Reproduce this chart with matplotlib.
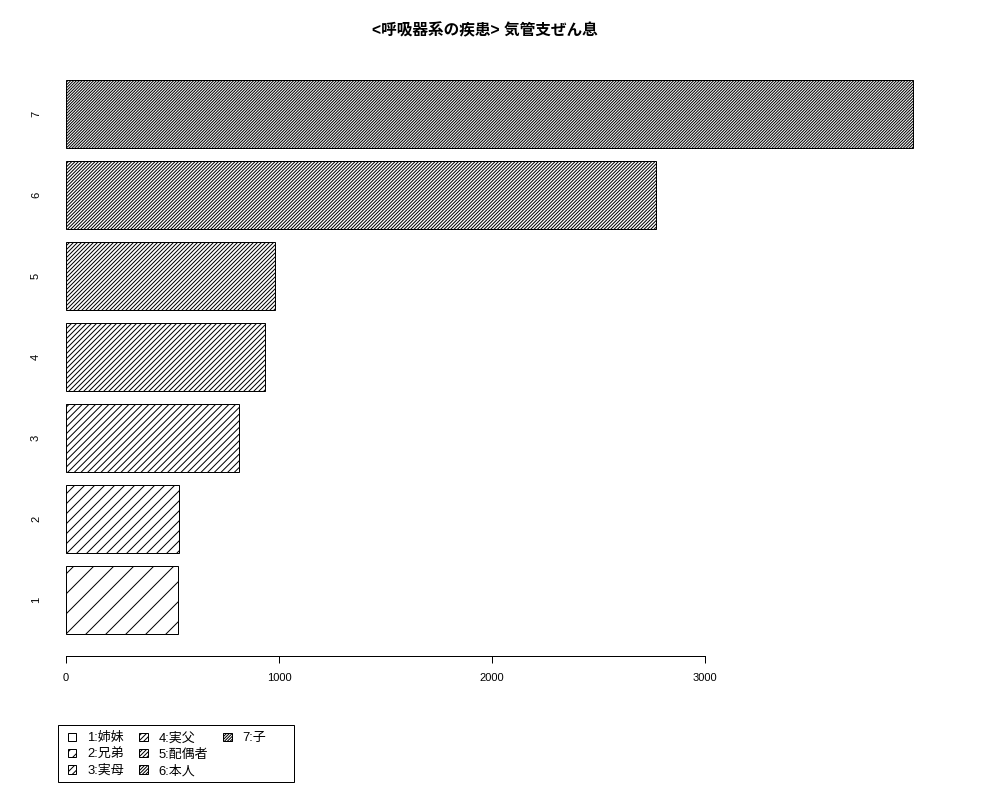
import matplotlib
matplotlib.use('Agg')
import matplotlib.pyplot as plt
from matplotlib.patches import Patch, Rectangle

plt.rcParams['font.family'] = ['Liberation Sans', 'Noto Sans CJK JP', 'DejaVu Sans']
plt.rcParams['hatch.linewidth'] = 0.6

title = '<呼吸器系の疾患> 気管支ぜん息'
bar_names = ['1', '2', '3', '4', '5', '6', '7']
legend_labels = ['1:姉妹', '2:兄弟', '3:実母', '4:実父', '5:配偶者', '6:本人', '7:子']
counts = [527, 532, 811, 933, 983, 2769, 3978]
x_ticks = [0, 1000, 2000, 3000]

DPI = 120
fig = plt.figure(figsize=(1000 / DPI, 800 / DPI), dpi=DPI)
ax = fig.add_axes([0.066, 0.18, 0.847, 0.7475])

# R barplot layout: width 1, space 0.2; hatch density grows with bar number
centers = [0.7 + 1.2 * i for i in range(len(counts))]
hatches = ['//' * (i + 1) for i in range(len(counts))]
bars = ax.barh(centers, counts, height=1.0, color='white', edgecolor='black',
               linewidth=0.6, align='center')
for b, h in zip(bars, hatches):
    b.set_hatch(h)
    b.set_clip_on(False)

ax.set_xlim(0, max(counts))
ax.set_ylim(0.2 - 0.04 * 8.2, 8.4 + 0.04 * 8.2)

for s in ['top', 'right', 'left']:
    ax.spines[s].set_visible(False)
ax.spines['bottom'].set_bounds(x_ticks[0], x_ticks[-1])
ax.spines['bottom'].set_linewidth(0.6)
ax.set_xticks(x_ticks)
ax.set_xticklabels([str(t) for t in x_ticks], fontsize=6.7)
ax.tick_params(axis='x', length=4.2, width=0.6, pad=6)

ax.set_yticks(centers)
ax.set_yticklabels(bar_names, fontsize=6.7, rotation=90, va='center')
ax.tick_params(axis='y', length=0, pad=15)

fig.text(0.485, 0.962, title, ha='center', va='center', fontsize=9.4,
         fontweight='bold')

handles = [Patch(facecolor='white', edgecolor='black', linewidth=0.6, hatch=h)
           for h in hatches]
labels = list(legend_labels)
# two blank slots so the columns fill 3, 3, 1 like the original
for _ in range(2):
    handles.append(Patch(facecolor='none', edgecolor='none'))
    labels.append('')
leg = fig.legend(handles, labels, ncol=3, loc='upper left',
                 bbox_to_anchor=(0.068, 1 - 732 / 800), borderaxespad=0,
                 fontsize=7.8, frameon=False,
                 handlelength=0.65, handleheight=0.6, handletextpad=0.85,
                 columnspacing=1.15, labelspacing=0.32, borderpad=0)
# legend box drawn separately, wider than the entries as in R
fig.patches.append(Rectangle((0.0575, 0.0225), 0.2365, 0.07125,
                             transform=fig.transFigure, fill=False,
                             edgecolor='black', linewidth=0.6))

fig.savefig('out.png', dpi=DPI)
